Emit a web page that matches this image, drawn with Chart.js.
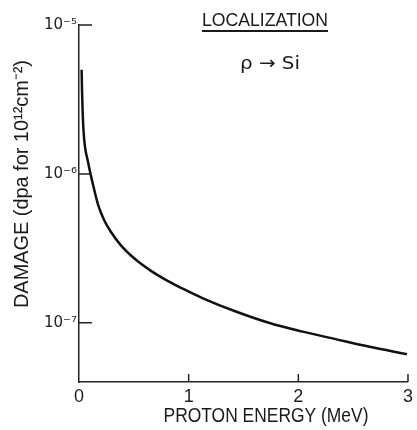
<!DOCTYPE html>
<html>
<head>
<meta charset="utf-8">
<script src="https://cdn.jsdelivr.net/npm/chart.js@4"></script>
<style>
  html, body { margin: 0; padding: 0; background: #fff; }
  #wrap { width: 417px; height: 430px; }
</style>
</head>
<body>
<div id="wrap"><canvas id="chart"></canvas></div>
<script>
const FONT = '"Liberation Sans", Arial, sans-serif';
const TICK_FONT = '"DejaVu Sans", sans-serif';

// --- Data --------------------------------------------------------------

const energy = [0.024, 0.028, 0.034, 0.042, 0.055, 0.078, 0.105, 0.14, 0.175, 0.232, 0.292, 0.382,
  0.503, 0.653, 0.804, 0.955, 1.13, 1.43, 1.73, 2.03, 2.34, 2.64, 2.99];
const damage = [5.0e-6, 3.55e-6, 2.51e-6, 1.91e-6, 1.51e-6, 1.245e-6, 1.0e-6, 7.76e-7, 6.17e-7, 4.84e-7, 4.07e-7, 3.31e-7,
  2.71e-7, 2.24e-7, 1.92e-7, 1.68e-7, 1.46e-7, 1.19e-7, 1.0e-7, 8.75e-8, 7.76e-8, 6.92e-8, 6.14e-8];

const xTicks = [0, 1, 2, 3];
const yTicks = [1e-7, 1e-6, 1e-5];
const yTickLabels = ["10\u207B\u2077", "10\u207B\u2076", "10\u207B\u2075"];

const xTitle = "PROTON ENERGY (MeV)";
const yTitle = "DAMAGE (dpa for 10\u00B9\u00B2cm\u207B\u00B2)";
const heading = "LOCALIZATION";
const reaction = "\u03C1 \u2192 Si";

// --- Helpers -------------------------------------------------------------

// draw text centred on (cx, cy), squeezed to a given width
function fitText(ctx, text, cx, cy, width, size, rot = 0, family = FONT) {
  ctx.save();
  ctx.font = `${size}px ${family}`;
  ctx.textAlign = "center";
  ctx.textBaseline = "middle";
  ctx.translate(cx, cy);
  ctx.rotate(rot);
  const w = ctx.measureText(text).width;
  ctx.scale(width / w, 1);
  ctx.fillText(text, 0, 0);
  ctx.restore();
}

const innerTicks = {
  id: "innerTicks",
  afterDatasetsDraw(chart) {
    const { ctx } = chart;
    const { x, y } = chart.scales;
    ctx.save();
    ctx.strokeStyle = "#222";
    ctx.lineWidth = 1.5;
    ctx.beginPath();
    for (const v of yTicks) {
      const py = y.getPixelForValue(v);
      ctx.moveTo(x.left, py);
      ctx.lineTo(x.left + 13, py);
    }
    for (const v of xTicks.slice(1)) {
      const px = x.getPixelForValue(v);
      ctx.moveTo(px, y.bottom);
      ctx.lineTo(px, y.bottom - 8);
    }
    ctx.stroke();
    ctx.restore();
  },
};

const labels = {
  id: "labels",
  afterDraw(chart) {
    const { ctx } = chart;
    ctx.save();
    ctx.fillStyle = "#1a1a1a";
    fitText(ctx, heading, 265, 21, 126, 19);
    ctx.strokeStyle = "#1a1a1a";
    ctx.lineWidth = 2;
    ctx.beginPath();
    ctx.moveTo(202, 31);
    ctx.lineTo(328, 31);
    ctx.stroke();
    fitText(ctx, reaction, 270, 64, 60, 18, 0, TICK_FONT);
    fitText(ctx, xTitle, 266, 416, 205, 20);
    fitText(ctx, yTitle, 22, 184, 248, 20, -Math.PI / 2);
    ctx.restore();
  },
};

// --- Chart ---------------------------------------------------------------

new Chart(document.querySelector("#chart"), {
  type: "line",
  data: {
    datasets: [{
      data: energy.map((e, i) => ({ x: e, y: damage[i] })),
      borderColor: "#111",
      borderWidth: 2.5,
      pointRadius: 0,
      cubicInterpolationMode: "monotone",
      fill: false,
    }],
  },
  options: {
    responsive: true,
    maintainAspectRatio: false,
    animation: false,
    layout: { padding: { top: 25, right: 1, left: 0, bottom: 0 } },
    plugins: { legend: { display: false }, tooltip: { enabled: false } },
    scales: {
      x: {
        type: "linear",
        min: 0,
        max: 3,
        afterBuildTicks: (s) => { s.ticks = xTicks.map((v) => ({ value: v })); },
        afterFit: (s) => { s.height = 48; },
        grid: { display: false, drawTicks: false },
        border: { display: true, color: "#222", width: 1.5 },
        ticks: { font: { family: FONT, size: 18 }, color: "#222", padding: 4, maxRotation: 0 },
      },
      y: {
        type: "logarithmic",
        min: 4e-8,
        max: 1e-5,
        afterBuildTicks: (s) => { s.ticks = yTicks.map((v) => ({ value: v })); },
        afterFit: (s) => { s.width = 79; },
        grid: { display: false, drawTicks: false },
        border: { display: true, color: "#222", width: 1.5 },
        ticks: {
          font: { family: TICK_FONT, size: 15 },
          color: "#222",
          padding: 2,
          callback: (v, i) => yTickLabels[i],
        },
      },
    },
  },
  plugins: [innerTicks, labels],
});
</script>
</body>
</html>
